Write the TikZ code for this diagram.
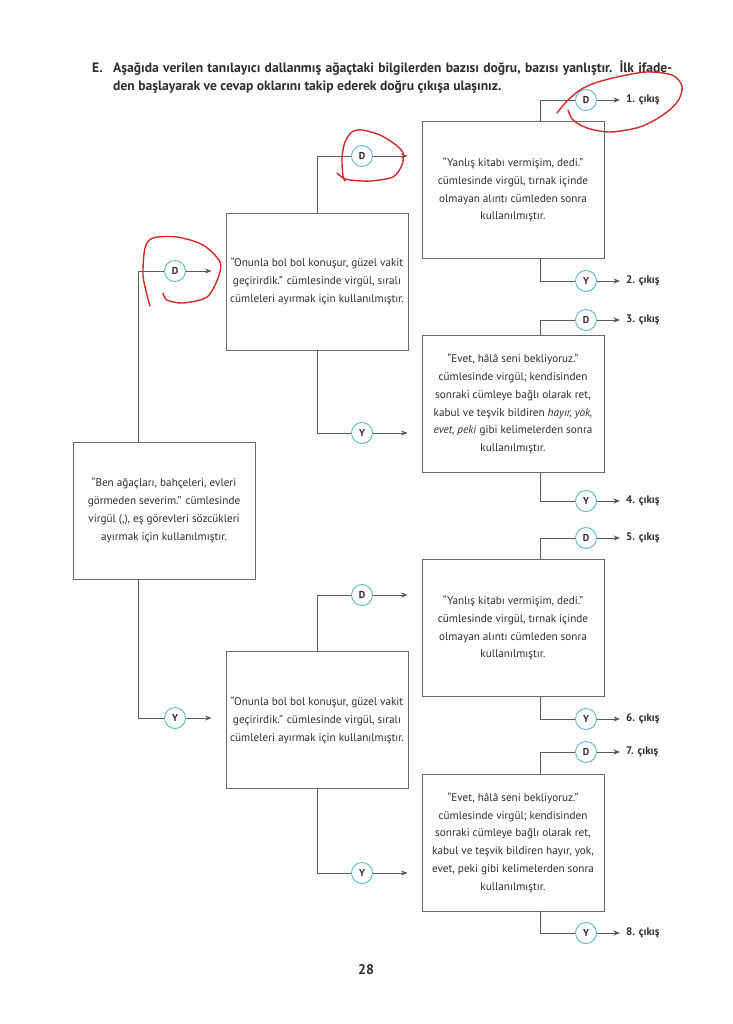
\documentclass[tikz,border=0pt]{standalone}
\usepackage{fontspec}
\setmainfont{PT Sans}
\usetikzlibrary{arrows.meta,calc}
\definecolor{boxgray}{HTML}{6A6A6A}
\definecolor{linegray}{HTML}{5A5A5A}
\definecolor{ringteal}{HTML}{5BB8C6}
\definecolor{pen}{HTML}{D42A2A}
\definecolor{ink}{HTML}{2E2E2E}
\begin{document}
\begin{tikzpicture}[x=1pt,y=-1pt,
  box/.style={draw=boxgray, line width=0.9pt, minimum width=182pt, minimum height=137pt,
    align=center, font=\fontsize{11.2}{17.8}\selectfont, inner sep=0pt, text=ink},
  ans/.style={circle, draw=ringteal, line width=0.9pt, fill=white, minimum size=21pt,
    inner sep=0pt, font=\fontsize{10}{10}\selectfont\bfseries, text=ink},
  conn/.style={draw=linegray, line width=0.8pt},
  arr/.style={conn, -{Stealth[length=6.5pt,width=5pt,fill=black!85]}},
  exitlbl/.style={anchor=west, font=\fontsize{11}{12}\selectfont\bfseries, text=ink, inner sep=0pt},
  ttl/.style={anchor=base west, font=\fontsize{13.6}{18}\selectfont\bfseries, text=ink, inner sep=0pt},
  penmark/.style={draw=pen, line width=1.4pt, line cap=round, line join=round}
]
\useasboundingbox (0,0) rectangle (732,1024);

% title
\node[ttl] (tE) at (92,73) {E.};
\node[ttl] (title1) at (113,73) {\makebox[559pt][s]{Aşağıda verilen tanılayıcı dallanmış ağaçtaki bilgilerden bazısı doğru, bazısı yanlıştır. İlk ifade-}};
\node[ttl] (title2) at (113,91) {den başlayarak ve cevap oklarını takip ederek doğru çıkışa ulaşınız.};

% boxes
\node[box] (root) at (164,510.5) {“Ben ağaçları, bahçeleri, evleri\\ görmeden severim.” cümlesinde\\ virgül (,), eş görevleri sözcükleri\\ ayırmak için kullanılmıştır.};
\node[box] (b1) at (317,281.5) {“Onunla bol bol konuşur, güzel vakit\\ geçirirdik.” cümlesinde virgül, sıralı\\ cümleleri ayırmak için kullanılmıştır.};
\node[box] (b2) at (317,720) {“Onunla bol bol konuşur, güzel vakit\\ geçirirdik.” cümlesinde virgül, sıralı\\ cümleleri ayırmak için kullanılmıştır.};
\node[box] (t1) at (513,190) {“Yanlış kitabı vermişim, dedi.”\\ cümlesinde virgül, tırnak içinde\\ olmayan alıntı cümleden sonra\\ kullanılmıştır.};
\node[box] (t2) at (513,404) {“Evet, hâlâ seni bekliyoruz.”\\ cümlesinde virgül; kendisinden\\ sonraki cümleye bağlı olarak ret,\\ kabul ve teşvik bildiren \textit{hayır, yok,}\\ \textit{evet, peki} gibi kelimelerden sonra\\ kullanılmıştır.};
\node[box] (t3) at (513,628) {“Yanlış kitabı vermişim, dedi.”\\ cümlesinde virgül, tırnak içinde\\ olmayan alıntı cümleden sonra\\ kullanılmıştır.};
\node[box] (t4) at (513,842.5) {“Evet, hâlâ seni bekliyoruz.”\\ cümlesinde virgül; kendisinden\\ sonraki cümleye bağlı olarak ret,\\ kabul ve teşvik bildiren hayır, yok,\\ evet, peki gibi kelimelerden sonra\\ kullanılmıştır.};

% answer circles
\node[ans] (c0d) at (175,271) {D};
\node[ans] (c0y) at (175,718) {Y};
\node[ans] (c1d) at (362,156) {D};
\node[ans] (c1y) at (362,433) {Y};
\node[ans] (c2d) at (362,595) {D};
\node[ans] (c2y) at (362,873) {Y};
\node[ans] (e1) at (586,100) {D};
\node[ans] (e2) at (586,281) {Y};
\node[ans] (e3) at (586,320) {D};
\node[ans] (e4) at (586,501) {Y};
\node[ans] (e5) at (586,538) {D};
\node[ans] (e6) at (586,719) {Y};
\node[ans] (e7) at (586,752) {D};
\node[ans] (e8) at (586,933) {Y};

% exit labels
\node[exitlbl] (x1) at (626,100) {1. çıkış};
\node[exitlbl] (x2) at (626,281) {2. çıkış};
\node[exitlbl] (x3) at (626,320) {3. çıkış};
\node[exitlbl] (x4) at (626,501) {4. çıkış};
\node[exitlbl] (x5) at (626,538) {5. çıkış};
\node[exitlbl] (x6) at (626,719) {6. çıkış};
\node[exitlbl] (x7) at (626,752) {7. çıkış};
\node[exitlbl] (x8) at (626,933) {8. çıkış};

% connectors root
\draw[conn] ($(root.north west)+(66,0)$) |- (c0d.west);
\draw[arr] (c0d.east) -- ($(b1.west |- c0d)+(-14,0)$);
\draw[conn] ($(root.south west)+(66,0)$) |- (c0y.west);
\draw[arr] (c0y.east) -- ($(b2.west |- c0y)+(-14,0)$);
% second level
\draw[conn] (b1.north) |- (c1d.west);
\draw[arr] (c1d.east) -- ($(t1.west |- c1d)+(-14,0)$);
\draw[conn] (b1.south) |- (c1y.west);
\draw[arr] (c1y.east) -- ($(t2.west |- c1y)+(-14,0)$);
\draw[conn] (b2.north) |- (c2d.west);
\draw[arr] (c2d.east) -- ($(t3.west |- c2d)+(-14,0)$);
\draw[conn] (b2.south) |- (c2y.west);
\draw[arr] (c2y.east) -- ($(t4.west |- c2y)+(-14,0)$);
% third level
\draw[conn] ($(t1.north)+(27,0)$) |- (e1.west);
\draw[conn] ($(t1.south)+(27,0)$) |- (e2.west);
\draw[conn] ($(t2.north)+(27,0)$) |- (e3.west);
\draw[conn] ($(t2.south)+(27,0)$) |- (e4.west);
\draw[conn] ($(t3.north)+(27,0)$) |- (e5.west);
\draw[conn] ($(t3.south)+(27,0)$) |- (e6.west);
\draw[conn] ($(t4.north)+(27,0)$) |- (e7.west);
\draw[conn] ($(t4.south)+(27,0)$) |- (e8.west);
\draw[arr] (e1.east) -- ($(x1.west)+(-6,0)$);
\draw[arr] (e2.east) -- ($(x2.west)+(-6,0)$);
\draw[arr] (e3.east) -- ($(x3.west)+(-6,0)$);
\draw[arr] (e4.east) -- ($(x4.west)+(-6,0)$);
\draw[arr] (e5.east) -- ($(x5.west)+(-6,0)$);
\draw[arr] (e6.east) -- ($(x6.west)+(-6,0)$);
\draw[arr] (e7.east) -- ($(x7.west)+(-6,0)$);
\draw[arr] (e8.east) -- ($(x8.west)+(-6,0)$);

% red pen marks
\draw[penmark] plot[smooth] coordinates {(557,113) (567,101) (580,90) (595,83) (617,77) (647,72) (672,75) (682,86) (678,101) (663,115) (640,127) (610,132) (587,128) (573,120) (568,110)};
\draw[penmark] plot[smooth] coordinates {(337,173) (343,178) (350,180) (370,181) (393,177) (402,165) (403,153) (396,145) (380,135) (362,130) (352,132) (345,142) (342,158) (343,176) (345,181)};
\draw[penmark] plot[smooth] coordinates {(163,293) (167,300) (183,303) (207,297) (218,278) (220,262) (203,245) (177,237) (153,238) (145,248) (143,275) (147,295) (150,306)};

% page number
\node[font=\fontsize{14}{16}\selectfont\bfseries, text=ink] (pg) at (366,970) {28};
\end{tikzpicture}
\end{document}
